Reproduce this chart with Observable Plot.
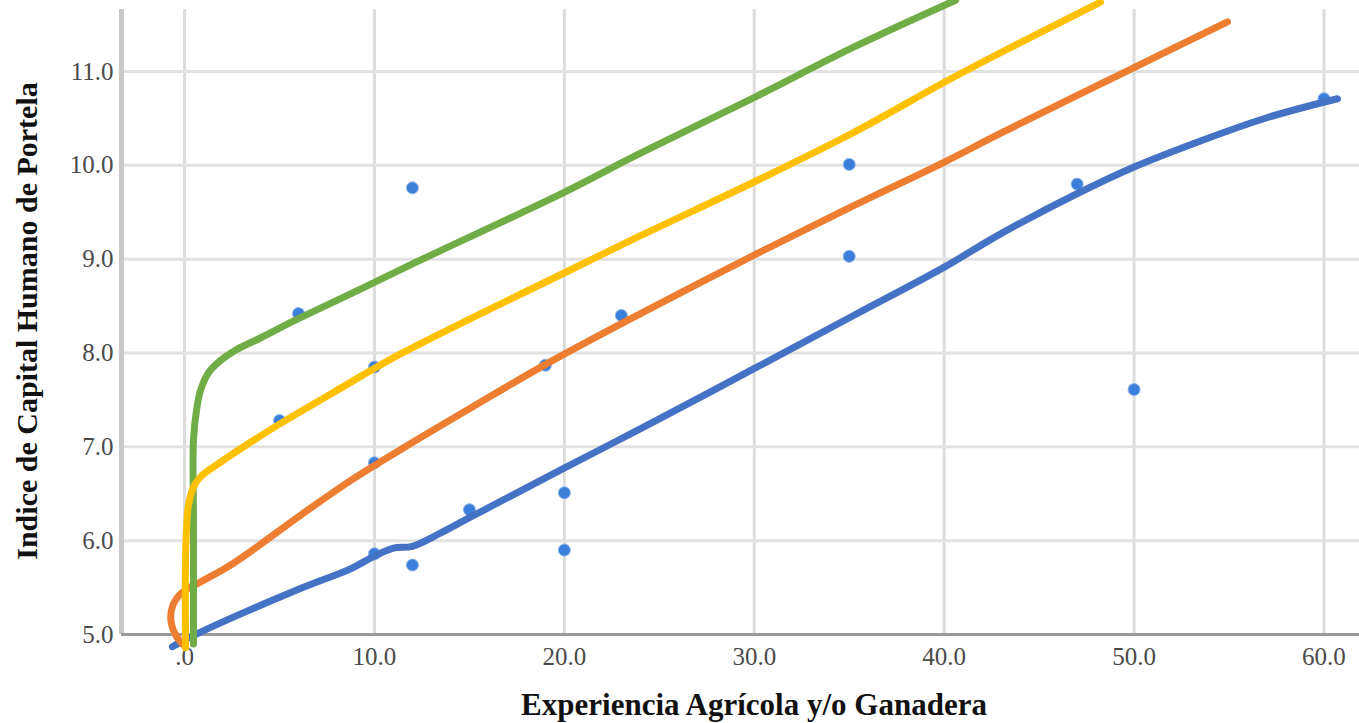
<!DOCTYPE html>
<html>
<head>
<meta charset="utf-8">
<script src="https://cdn.jsdelivr.net/npm/d3@7"></script>
<script src="https://cdn.jsdelivr.net/npm/@observablehq/plot@0.6"></script>
<style>
  html, body { margin: 0; padding: 0; background: #fff; }
  #chart svg { display: block; }
</style>
</head>
<body>
<div id="chart"></div>
<script>
// Axis ticks and their printed labels
const xTicks = [0, 10, 20, 30, 40, 50, 60];
const xTickLabels = [".0", "10.0", "20.0", "30.0", "40.0", "50.0", "60.0"];
const yTicks = [5, 6, 7, 8, 9, 10, 11];
const yTickLabels = ["5.0", "6.0", "7.0", "8.0", "9.0", "10.0", "11.0"];
const xDomain = [-3.32, 61.87];
const yDomain = [5, 11.661];

const xTitle = "Experiencia Agrícola y/o Ganadera";
const yTitle = "Indice de Capital Humano de Portela";

// Observations (years of experience, index value)
const obsX = [5, 6, 10, 10, 10, 12, 12, 15, 19, 20, 20, 23, 35, 35, 47, 50, 60];
const obsY = [7.28, 8.42, 7.85, 6.83, 5.86, 9.76, 5.74, 6.33, 7.87, 6.51, 5.90, 8.40, 10.01, 9.03, 9.80, 7.61, 10.71];

// Fitted curves
const fitBlueX = [-0.64, -0.01, 0.68, 6.1, 8.74, 9.95, 11.0, 12.0, 13.47, 15.05, 19.96, 24.27, 29.96, 35.23, 39.96, 42.97, 47.02, 49.97, 53.5, 57.03, 60.71];
const fitBlueY = [4.87, 4.94, 5.01, 5.49, 5.70, 5.83, 5.92, 5.94, 6.08, 6.25, 6.77, 7.22, 7.83, 8.40, 8.91, 9.27, 9.70, 9.98, 10.26, 10.51, 10.71];

const fitOrangeX = [-0.06, -0.43, -0.69, -0.69, -0.43, 0.10, 0.84, 2.58, 6.1, 8.74, 11.37, 15.2, 19.11, 24.01, 29.96, 35.23, 39.96, 42.96, 49.97, 54.92];
const fitOrangeY = [4.89, 4.98, 5.11, 5.26, 5.38, 5.48, 5.56, 5.76, 6.27, 6.64, 6.97, 7.43, 7.89, 8.42, 9.04, 9.57, 10.03, 10.34, 11.04, 11.53];

const fitGreenX = [0.47, 0.47, 0.47, 0.63, 0.84, 1.26, 1.89, 2.68, 3.99, 5.94, 8.74, 12.0, 19.96, 24.01, 29.96, 35.23, 40.6];
const fitGreenY = [4.90, 6.21, 7.07, 7.39, 7.60, 7.79, 7.92, 8.03, 8.16, 8.36, 8.63, 8.95, 9.71, 10.13, 10.72, 11.26, 11.76];

const fitYellowX = [0.05, 0.05, 0.10, 0.20, 0.47, 0.84, 1.63, 2.95, 5.06, 7.84, 11.37, 19.96, 24.01, 29.96, 35.23, 39.96, 42.96, 48.23];
const fitYellowY = [4.86, 5.79, 6.11, 6.37, 6.57, 6.68, 6.80, 6.98, 7.25, 7.58, 7.99, 8.85, 9.25, 9.82, 10.35, 10.88, 11.20, 11.74];

const fitLine = (xs, ys, color) =>
  Plot.line(xs, {x: xs, y: ys, stroke: color, strokeWidth: 7, curve: "catmull-rom"});

const chart = Plot.plot({
  width: 1359,
  height: 723,
  marginLeft: 121,
  marginRight: 0,
  marginTop: 9,
  marginBottom: 89,
  style: {
    fontFamily: "'Liberation Serif', 'Times New Roman', serif",
    fontSize: "25px",
    color: "#4a4a4a",
    background: "#fff",
    overflow: "hidden"
  },
  x: {
    domain: xDomain,
    ticks: xTicks,
    tickFormat: d => xTickLabels[xTicks.indexOf(d)],
    tickSize: 0,
    tickPadding: 13,
    label: null
  },
  y: {
    domain: yDomain,
    ticks: yTicks,
    tickFormat: d => yTickLabels[yTicks.indexOf(d)],
    tickSize: 0,
    tickPadding: 8,
    label: null
  },
  marks: [
    Plot.ruleX(xTicks, {stroke: "#dcdcdc", strokeWidth: 3}),
    Plot.ruleY(yTicks.slice(1), {stroke: "#e2e2e2", strokeWidth: 3}),
    Plot.ruleX([xDomain[0]], {stroke: "#c8c8c8", strokeWidth: 5}),
    Plot.ruleY([yDomain[0]], {stroke: "#9a9a9a", strokeWidth: 3}),
    Plot.dot(obsX, {x: obsX, y: obsY, r: 6, fill: "#3b7fdb", stroke: "#8fb3ea", strokeWidth: 1}),
    fitLine(fitBlueX, fitBlueY, "#4472C4"),
    fitLine(fitOrangeX, fitOrangeY, "#ED7D31"),
    fitLine(fitGreenX, fitGreenY, "#70AD47"),
    fitLine(fitYellowX, fitYellowY, "#FFC000")
  ]
});

document.getElementById("chart").appendChild(chart);

// Axis titles
const svg = d3.select(chart);
svg.append("text")
  .attr("x", 754)
  .attr("y", 715)
  .attr("text-anchor", "middle")
  .attr("font-family", "'Liberation Serif', 'Times New Roman', serif")
  .attr("font-weight", "bold")
  .attr("font-size", 31)
  .attr("fill", "#111")
  .text(xTitle);
svg.append("text")
  .attr("transform", "translate(37,321) rotate(-90)")
  .attr("text-anchor", "middle")
  .attr("font-family", "'Liberation Serif', 'Times New Roman', serif")
  .attr("font-weight", "bold")
  .attr("font-size", 30)
  .attr("fill", "#111")
  .text(yTitle);
</script>
</body>
</html>
